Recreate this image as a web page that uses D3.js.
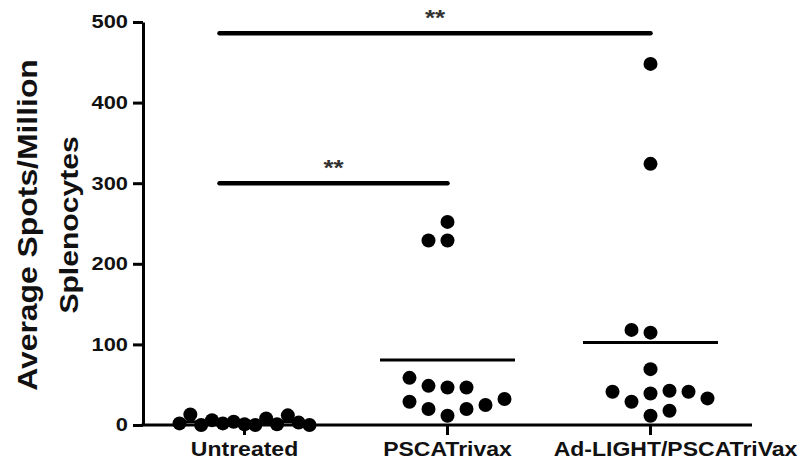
<!DOCTYPE html>
<html><head><meta charset="utf-8">
<script src="https://cdn.jsdelivr.net/npm/d3@7"></script>
<style>
body{margin:0;background:#fff}
text{font-family:"Liberation Sans",Arial,sans-serif;font-weight:bold;fill:#111}
</style>
</head><body><svg id="c" width="806" height="464"></svg>
<script>
// ---- data ----
const categories = ["Untreated", "PSCATrivax", "Ad-LIGHT/PSCATriVax"];
const untreated = [1, 4, 0, 2, 8, 1, 6, 12, 0, 3, 13, 0, 2];
const pscaTrivax = [252, 229, 229, 11.5, 19.8, 19.8, 28.8, 24.8, 46.5, 32.2, 48.6, 46.5, 58.5];
const adLightPscaTrivax = [448, 324, 114.6, 118, 69.3, 11.5, 39.1, 28.8, 42.5, 41.2, 41.2, 17.7, 33];
const yTicks = [0, 100, 200, 300, 400, 500];
const yTitle = ["Average Spots/Million", "Splenocytes"];
const sigFrom = ["Untreated", "Untreated"];
const sigTo = ["Ad-LIGHT/PSCATriVax", "PSCATrivax"];
const sigLevel = [486, 300];
const sigLabel = ["**", "**"];

const groups = [untreated, pscaTrivax, adLightPscaTrivax];

// ---- layout ----
const svg = d3.select("#c");
const mL = 143, mR = 752, mT = 22, mB = 425;
const STRETCH = 1.18;

const x = d3.scaleBand().domain(categories).range([mL, mR]).padding(0);
const y = d3.scaleLinear().domain([0, 500]).range([mB, mT]);

function stretch(sel, k) {
  sel.each(function () {
    const L = this.getComputedTextLength();
    this.setAttribute("textLength", L * k);
    this.setAttribute("lengthAdjust", "spacingAndGlyphs");
  });
}

// y axis
const gy = svg.append("g").attr("transform", `translate(${mL},0)`)
  .call(d3.axisLeft(y).tickValues(yTicks).tickSize(10).tickSizeOuter(0).tickPadding(5));
gy.select(".domain").attr("stroke", "#000").attr("stroke-width", 3);
gy.selectAll(".tick line").attr("stroke", "#000").attr("stroke-width", 3);
gy.selectAll(".tick text").attr("font-size", 18.5).attr("font-family", null).attr("fill", "#111");
stretch(gy.selectAll(".tick text"), STRETCH);

// x axis
const gx = svg.append("g").attr("transform", `translate(0,${mB})`)
  .call(d3.axisBottom(x).tickSize(10).tickSizeOuter(0));
gx.select(".domain").attr("stroke", "#000").attr("stroke-width", 3)
  .attr("d", `M${mL - 1.5},0H${mR}`);
gx.selectAll(".tick line").attr("stroke", "#000").attr("stroke-width", 3);
gx.selectAll(".tick text").attr("font-size", 19.5).attr("font-family", null)
  .attr("fill", "#111").attr("y", 17)
  .attr("dx", (d, i) => i === categories.length - 1 ? 25 : 0);
stretch(gx.selectAll(".tick text"), STRETCH);

// y title
const titleG = svg.append("g")
  .attr("transform", `translate(0,${(mT + mB) / 2}) rotate(-90)`);
titleG.selectAll("text").data(yTitle).join("text")
  .attr("text-anchor", "middle")
  .attr("font-size", (d, i) => i === 0 ? 27 : 25.5)
  .attr("x", -1.5)
  .attr("y", (d, i) => 36.5 + i * 41.5)
  .text(d => d);
stretch(titleG.selectAll("text"), STRETCH);

// swarm layout (Prism-like column scatter)
function swarm(values, cx) {
  const minD = 14.5;
  let step = 19, dist = minD;
  const py = values.map(v => y(v));
  const crowd = d3.max(py, a => py.filter(b => Math.abs(a - b) < minD).length);
  if (crowd > 9) { step = 130 / (values.length - 1); dist = step; }
  const order = [0, -1, 1, -2, 2];
  for (let k = 3; k < 20; k++) order.push(k, -k);
  const placed = [];
  values.forEach((v, i) => {
    for (const k of order) {
      const px = cx + k * step;
      if (placed.every(p => Math.hypot(p.x - px, p.y - py[i]) >= dist - 1e-6)) {
        placed.push({ x: px, y: py[i], v });
        break;
      }
    }
  });
  return placed;
}

const dotsG = svg.append("g");
groups.forEach((vals, gi) => {
  const cx = x(categories[gi]) + x.bandwidth() / 2;
  const pts = swarm(vals, cx);
  dotsG.append("g").selectAll("circle").data(pts).join("circle")
    .attr("cx", d => d.x).attr("cy", d => d.y).attr("r", 7).attr("fill", "#000");
  const m = d3.mean(vals);
  svg.append("line")
    .attr("x1", cx - 67.5).attr("x2", cx + 67.5)
    .attr("y1", y(m)).attr("y2", y(m))
    .attr("stroke", "#000").attr("stroke-width", 3);
});

// significance bars
const sig = sigFrom.map((f, i) => ({ from: f, to: sigTo[i], level: sigLevel[i], label: sigLabel[i] }));
const sg = svg.append("g");
sig.forEach(s => {
  const x1 = x(s.from) + x.bandwidth() / 2 - 25;
  const x2 = x(s.to) + x.bandwidth() / 2;
  sg.append("line").attr("x1", x1).attr("x2", x2)
    .attr("y1", y(s.level)).attr("y2", y(s.level))
    .attr("stroke", "#000").attr("stroke-width", 4.5).attr("stroke-linecap", "round");
  const t = sg.append("text").attr("x", (x1 + x2) / 2).attr("y", y(s.level) - 8)
    .attr("text-anchor", "middle").attr("font-size", 22).style("fill", "#333")
    .text(s.label);
  stretch(t, STRETCH);
});
</script>
</body></html>
